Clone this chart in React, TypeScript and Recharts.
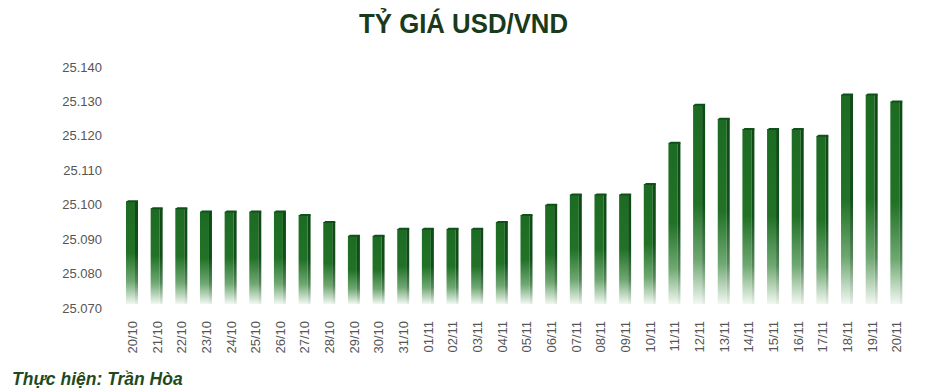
import React from 'react';
import { BarChart, Bar, XAxis, YAxis } from 'recharts';

const dates = [
  '20/10', '21/10', '22/10', '23/10', '24/10', '25/10', '26/10', '27/10',
  '28/10', '29/10', '30/10', '31/10', '01/11', '02/11', '03/11', '04/11',
  '05/11', '06/11', '07/11', '08/11', '09/11', '10/11', '11/11', '12/11',
  '13/11', '14/11', '15/11', '16/11', '17/11', '18/11', '19/11', '20/11',
];

const rates = [
  25101, 25099, 25099, 25098, 25098, 25098, 25098, 25097,
  25095, 25091, 25091, 25093, 25093, 25093, 25093, 25095,
  25097, 25100, 25103, 25103, 25103, 25106, 25118, 25129,
  25125, 25122, 25122, 25122, 25120, 25132, 25132, 25130,
];

const yTicks = [25070, 25080, 25090, 25100, 25110, 25120, 25130, 25140];

const chartData = dates.map((d, i) => ({ date: d, rate: rates[i] }));

const fmt = (v: number) => v.toLocaleString('de-DE');

// bar with a darker side strip and a small top cap, fading out toward the bottom
const Bar3D = (props: any) => {
  const { x, y, width, height } = props;
  if (!height || height <= 0) return null;
  const side = 3;
  const front = width - side;
  const h = height - 4;
  return (
    <g>
      <rect x={x} y={y} width={front} height={h} fill="url(#frontFade)" />
      <rect x={x + front} y={y} width={side} height={h} fill="url(#sideFade)" />
      <path
        d={`M${x},${y + 1} L${x + 2},${y - 1} L${x + width},${y - 1} L${x + width},${y + 1} Z`}
        fill="#10501a"
      />
    </g>
  );
};

const DateTick = (props: any) => {
  const { x, y, payload } = props;
  return (
    <g transform={`translate(${x},${y + 5})`}>
      <text
        transform="rotate(-90)"
        textAnchor="end"
        dy="0.35em"
        fill="#555"
        fontSize={13}
        fontFamily="'Liberation Sans', Arial, sans-serif"
      >
        {payload.value}
      </text>
    </g>
  );
};

export default function App() {
  return (
    <div style={{ position: 'absolute', left: 0, top: 0, width: 928, height: 392, background: '#fff' }}>
      <div
        style={{
          position: 'absolute',
          left: 0,
          top: 7,
          width: 928,
          textAlign: 'center',
          lineHeight: '34px',
        }}
      >
        <span
          style={{
            display: 'inline-block',
            transform: 'scaleX(0.92)',
            fontFamily: "'Liberation Sans', Arial, sans-serif",
            fontWeight: 700,
            fontSize: 28,
            color: '#1a3a1c',
          }}
        >
          TỶ GIÁ USD/VND
        </span>
      </div>
      <BarChart
        width={928}
        height={392}
        data={chartData}
        margin={{ top: 67, right: 19, bottom: 34, left: 8 }}
      >
        <defs>
          <linearGradient id="frontFade" x1="0" y1="0" x2="0" y2="1">
            <stop offset="0%" stopColor="#1d6b23" />
            <stop offset="50%" stopColor="#217227" />
            <stop offset="78%" stopColor="#6fa872" />
            <stop offset="100%" stopColor="#f2f8f2" />
          </linearGradient>
          <linearGradient id="sideFade" x1="0" y1="0" x2="0" y2="1">
            <stop offset="0%" stopColor="#0e4a14" />
            <stop offset="50%" stopColor="#10501a" />
            <stop offset="78%" stopColor="#55875a" />
            <stop offset="100%" stopColor="#e8f1e8" />
          </linearGradient>
        </defs>
        <XAxis
          dataKey="date"
          axisLine={false}
          tickLine={false}
          interval={0}
          height={50}
          tick={<DateTick />}
        />
        <YAxis
          domain={[25070, 25140]}
          ticks={yTicks}
          tickFormatter={fmt}
          axisLine={false}
          tickLine={false}
          width={112}
          tickMargin={12}
          tick={{ fill: '#555', fontSize: 13, fontFamily: "'Liberation Sans', Arial, sans-serif" }}
        />
        <Bar dataKey="rate" shape={<Bar3D />} isAnimationActive={false} barSize={12} />
      </BarChart>
      <div
        style={{
          position: 'absolute',
          left: 12,
          top: 367,
          fontFamily: "'Liberation Sans', Arial, sans-serif",
          fontWeight: 700,
          fontStyle: 'italic',
          fontSize: 17.5,
          color: '#1e4a22',
          lineHeight: '24px',
        }}
      >
        Thực hiện: Trần Hòa
      </div>
    </div>
  );
}
